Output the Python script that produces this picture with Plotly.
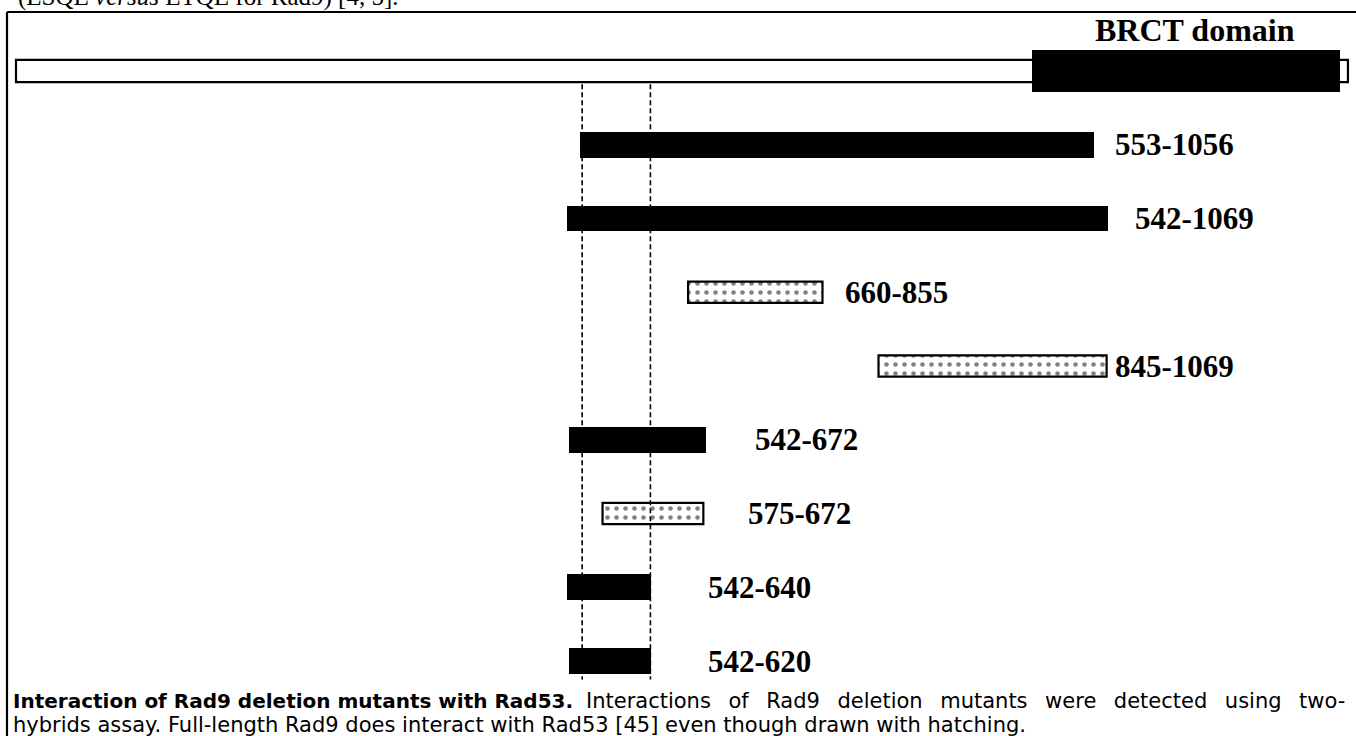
import plotly.graph_objects as go

# ---------------- data ----------------
# residue ranges of the constructs (labels)
construct_labels = ["553-1056", "542-1069", "660-855", "845-1069",
                    "542-672", "575-672", "542-640", "542-620"]
# drawn extents (residue-like axis units)
drawn_start = [555, 542, 661, 848, 544, 577, 542, 544]
drawn_end = [1060, 1073, 793, 1072, 679, 676, 625, 625]
# 1 = solid (interacts), 0 = dotted
solid_fill = [1, 1, 0, 0, 1, 0, 1, 1]

full_length = [1, 1309]
brct_domain = [999, 1301]
dashed_x = [557, 624]

# ---------------- layout constants ----------------
W, H = 1356, 736
X0_PX, X_SCALE = 16, 1.0183           # px of residue 1, px per residue
ROW0_PX, ROW_STEP = 71, 73.75         # px centre of row 0, px per row
xr = [1 - X0_PX / X_SCALE, 1 + (W - X0_PX) / X_SCALE]
yr = [(H - ROW0_PX) / ROW_STEP, -ROW0_PX / ROW_STEP]
LABEL_OFFSET = [18, 25, 20, 6, 46, 42, 54, 54]


def py(px):  # paper y from pixel
    return 1 - px / H


def pxx(px):  # paper x from pixel
    return px / W


fig = go.Figure()

rows = list(range(1, len(construct_labels) + 1))

# full-length Rad9 (white box)
fig.add_trace(go.Bar(
    orientation="h", y=[0], base=[full_length[0]],
    x=[full_length[1] - full_length[0]], width=[0.30],
    marker=dict(color="white", line=dict(color="black", width=2.2)),
    hoverinfo="skip", showlegend=False))
# BRCT domain
fig.add_trace(go.Bar(
    orientation="h", y=[0], base=[brct_domain[0]],
    x=[brct_domain[1] - brct_domain[0]], width=[0.57],
    marker=dict(color="black", line=dict(width=0)),
    hoverinfo="skip", showlegend=False))

# solid constructs
s_idx = [i for i, s in enumerate(solid_fill) if s == 1]
fig.add_trace(go.Bar(
    orientation="h", y=[rows[i] for i in s_idx],
    base=[drawn_start[i] for i in s_idx],
    x=[drawn_end[i] - drawn_start[i] for i in s_idx],
    width=0.35,
    marker=dict(color="black", line=dict(width=0)),
    hoverinfo="skip", showlegend=False))

# dotted constructs
d_idx = [i for i, s in enumerate(solid_fill) if s == 0]
fig.add_trace(go.Bar(
    orientation="h", y=[rows[i] for i in d_idx],
    base=[drawn_start[i] for i in d_idx],
    x=[drawn_end[i] - drawn_start[i] for i in d_idx],
    width=0.29,
    marker=dict(color="white",
                line=dict(color="black", width=2.2),
                pattern=dict(shape=".", fgcolor="black", bgcolor="white",
                             size=9, solidity=0.2)),
    hoverinfo="skip", showlegend=False))

# dashed guide lines
for xv in dashed_x:
    fig.add_trace(go.Scatter(
        x=[xv, xv], y=[0.18, 8.25], mode="lines",
        line=dict(color="black", width=1.6, dash="5px,3px"),
        hoverinfo="skip", showlegend=False))

annotations = []
for i, lab in enumerate(construct_labels):
    annotations.append(dict(
        x=drawn_end[i] + LABEL_OFFSET[i], y=rows[i], xref="x", yref="y",
        text="<b>%s</b>" % lab, showarrow=False, xanchor="left",
        yanchor="middle",
        font=dict(family="Liberation Serif", size=31, color="black")))

annotations.append(dict(
    x=1159, y=-0.56, xref="x", yref="y", text="<b>BRCT domain</b>",
    showarrow=False, xanchor="center", yanchor="middle",
    font=dict(family="Liberation Serif", size=32, color="black")))

# cut-off text line at the very top
annotations.append(dict(
    x=pxx(16), y=py(13), xref="paper", yref="paper",
    text="(ESQE <i>versus</i> ETQE for Rad9) [4, 5].",
    showarrow=False, xanchor="left", yanchor="bottom",
    font=dict(family="Liberation Serif", size=25, color="black")))

NB = "\u00a0"
THIN = "\u2009"
CAP_FONT = "DejaVu Sans"
line1_bold = "<b>Interaction of Rad9 deletion mutants with Rad53.</b>"
line1_rest = (NB * 2 + THIN).join(
    "Interactions of Rad9 deletion mutants were detected using two-".split(" "))
annotations.append(dict(
    x=pxx(11), y=py(701), xref="paper", yref="paper",
    text=line1_bold, showarrow=False, xanchor="left", yanchor="middle",
    font=dict(family=CAP_FONT, size=20, color="black")))
annotations.append(dict(
    x=pxx(1347), y=py(701), xref="paper", yref="paper",
    text=line1_rest, showarrow=False, xanchor="right", yanchor="middle",
    font=dict(family=CAP_FONT, size=21, color="black")))
annotations.append(dict(
    x=pxx(11), y=py(725), xref="paper", yref="paper",
    text="hybrids assay. Full-length Rad9 does interact with Rad53 [45] even though drawn with hatching.",
    showarrow=False, xanchor="left", yanchor="middle",
    font=dict(family=CAP_FONT, size=21, color="black")))

shapes = [
    dict(type="line", xref="paper", yref="paper", x0=pxx(7), x1=1,
         y0=py(12), y1=py(12), line=dict(color="black", width=2.2)),
    dict(type="line", xref="paper", yref="paper", x0=pxx(7), x1=pxx(7),
         y0=py(12), y1=0, line=dict(color="black", width=2.2)),
]

fig.update_layout(
    width=W, height=H, margin=dict(l=0, r=0, t=0, b=0),
    paper_bgcolor="white", plot_bgcolor="white",
    barmode="overlay", bargap=0,
    xaxis=dict(range=xr, visible=False, fixedrange=True),
    yaxis=dict(range=yr, visible=False, fixedrange=True),
    annotations=annotations, shapes=shapes,
)

fig.write_html("out.html",
               config={"displayModeBar": False, "staticPlot": True},
               post_script="document.body.style.margin='0px';"
                           "document.body.style.overflow='hidden';")
